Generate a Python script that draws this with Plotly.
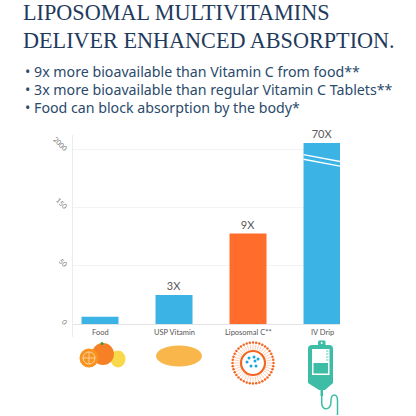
import math
import plotly.graph_objects as go

# ---------------- data ----------------
categories = ["Food", "USP Vitamin", "Liposomal C**", "IV Drip"]
values = [6.3, 25, 78, 156]
bar_labels = ["", "3X", "9X", "70X"]
bar_colors = ["#3BB4E5", "#3BB4E5", "#FF6C2C", "#3BB4E5"]
ytick_vals = [0, 50, 100, 150]
ytick_text = ["0", "50", "150", "2000"]
title_lines = ["LIPOSOMAL MULTIVITAMINS", "DELIVER ENHANCED ABSORPTION."]
bullets = [
    "• 9x more bioavailable than Vitamin C from food**",
    "• 3x more bioavailable than regular Vitamin C Tablets**",
    "• Food can block absorption by the body*",
]

# ---------------- geometry helpers ----------------
W = H = 416
L, R, T, B = 73, 76, 135, 79
PW, PH = W - L - R, H - T - B


def px(x):
    return (x - L) / PW


def py(y):
    return (H - B - y) / PH


fig = go.Figure()
fig.add_trace(go.Bar(
    x=categories, y=values, marker_color=bar_colors, marker_line_width=0,
    width=0.5, text=bar_labels, textposition="outside", cliponaxis=False,
    textfont=dict(family="Lato", size=11, color="#5a5a5a"),
    hoverinfo="skip",
))

shapes = []
annotations = []

# break marks on the tall bar
ib = categories.index("IV Drip")
for y0 in (146, 142):
    shapes.append(dict(type="line", xref="x", yref="y", x0=ib - 0.25, x1=ib + 0.25,
                       y0=y0, y1=y0 - 6, line=dict(color="white", width=1.3)))

# category labels under the baseline
for c in categories:
    annotations.append(dict(x=c, y=-7, xref="x", yref="y", text=c, showarrow=False,
                            font=dict(family="Lato", size=7.5, color="#555555")))

# title
for i, t in enumerate(title_lines):
    annotations.append(dict(x=px(21), y=py(13 + 27 * i), xref="paper", yref="paper",
                            xanchor="left", yanchor="middle", text=t, showarrow=False,
                            font=dict(family="Liberation Serif, DejaVu Serif, serif", size=22.2,
                                      color="#1E3A5C")))
# bullets
for i, t in enumerate(bullets):
    annotations.append(dict(x=px(23), y=py([72, 89.5, 107.5][i]), xref="paper", yref="paper",
                            xanchor="left", yanchor="middle", text=t, showarrow=False,
                            font=dict(family="Noto Sans", size=14.2, color="#2A4A6B")))


# ---------------- icons ----------------
def circ(cx, cy, r, fill=None, line=None, lw=0, ry=None):
    ry = r if ry is None else ry
    d = dict(type="circle", xref="paper", yref="paper", x0=px(cx - r), x1=px(cx + r),
             y0=py(cy + ry), y1=py(cy - ry), line=dict(width=lw, color=line or "rgba(0,0,0,0)"))
    if fill:
        d["fillcolor"] = fill
    shapes.append(d)


def path(pts_str, fill=None, line=None, lw=0):
    d = dict(type="path", xref="paper", yref="paper", path=pts_str,
             line=dict(width=lw, color=line or "rgba(0,0,0,0)"))
    if fill:
        d["fillcolor"] = fill
    shapes.append(d)


def P(x, y):
    return f"{px(x):.5f},{py(y):.5f}"


def rect(x0, y0, x1, y1, fill):
    shapes.append(dict(type="rect", xref="paper", yref="paper", x0=px(x0), x1=px(x1),
                       y0=py(y1), y1=py(y0), fillcolor=fill, line=dict(width=0)))


# food: lemon, orange, cut orange
circ(118, 359, 7.5, fill="#F9D849", ry=8.5)
circ(103, 354, 11, fill="#F58025")
circ(102, 343.5, 1.5, fill="#3F9A3A")
circ(89, 358, 9.5, fill="#F7931E")
circ(89, 358, 6, line="#FFE3C4", lw=0.8)
path(f"M {P(83,358)} L {P(95,358)} M {P(89,352)} L {P(89,364)}", line="#FFE3C4", lw=0.7)

# pill
circ(179, 356, 23, fill="#F9B64B", ry=10.5)

# liposome
cx, cy = 253, 363
for k in range(40):
    a = 2 * math.pi * k / 40
    ca, sa = math.cos(a), math.sin(a)
    path(f"M {P(cx + 19*ca, cy + 19*sa)} L {P(cx + 13.5*ca, cy + 13.5*sa)}", line="#F8B08A", lw=0.6)
    circ(cx + 20.5 * ca, cy + 20.5 * sa, 1.25, fill="#F26522")
circ(cx, cy, 12, line="#F26522", lw=2.2)
for dx, dy in [(-4, -5), (1, -6), (-6, -1), (2, -2), (5, -4), (-2, 3), (3, 3)]:
    circ(cx + dx, cy + dy, 1.5, fill="#1BA6E0")

# IV bag
teal = "#3DBDA6"
path(f"M {P(318,347)} L {P(318,342)} Q {P(318,340.5)} {P(319.5,340.5)} L {P(324,340.5)} "
     f"Q {P(325.5,340.5)} {P(325.5,342)} L {P(325.5,347)} Z", fill=teal)
path(f"M {P(308,349)} Q {P(308,345)} {P(312,345)} L {P(329,345)} Q {P(333,345)} {P(333,349)} "
     f"L {P(333,383)} L {P(325,390)} L {P(319,390)} L {P(308,383)} Z", fill=teal)
circ(321.7, 343, 1, fill="white")
rect(312, 349, 329.5, 375, "white")
rect(313.5, 363, 328, 373.5, teal)
for yy in (351, 354, 357, 360):
    path(f"M {P(326,yy)} L {P(328.5,yy)}", line=teal, lw=0.8)
rect(320.5, 389, 323, 396, teal)
path(f"M {P(321.7,396)} L {P(321.7,403)} C {P(321.7,411)} {P(331,411)} {P(331,401)} "
     f"C {P(331,393)} {P(337.5,393)} {P(337.5,401)} L {P(337.5,415)}", line=teal, lw=1.5)

fig.update_layout(
    width=W, height=H, margin=dict(l=L, r=R, t=T, b=B, autoexpand=False),
    paper_bgcolor="white", plot_bgcolor="white", showlegend=False,
    bargap=0.5, shapes=shapes, annotations=annotations,
    xaxis=dict(range=[-0.365, 3.243], showticklabels=False, showgrid=False,
               zeroline=False, showline=False, fixedrange=True),
    yaxis=dict(range=[-11.2, 162.9], tickvals=ytick_vals, ticktext=ytick_text,
               tickangle=45, tickfont=dict(family="Lato", size=7, color="#7a7a7a"),
               showgrid=True, gridcolor="#F3F3F3", gridwidth=1,
               zeroline=True, zerolinecolor="#E4E4E4", zerolinewidth=1,
               showline=True, linecolor="#ECECEC", linewidth=1, ticks="", ticklabelstandoff=4,
               fixedrange=True),
)

fig.write_html("out.html", config={"displayModeBar": False, "staticPlot": True},
               post_script="document.body.style.margin='0';")
